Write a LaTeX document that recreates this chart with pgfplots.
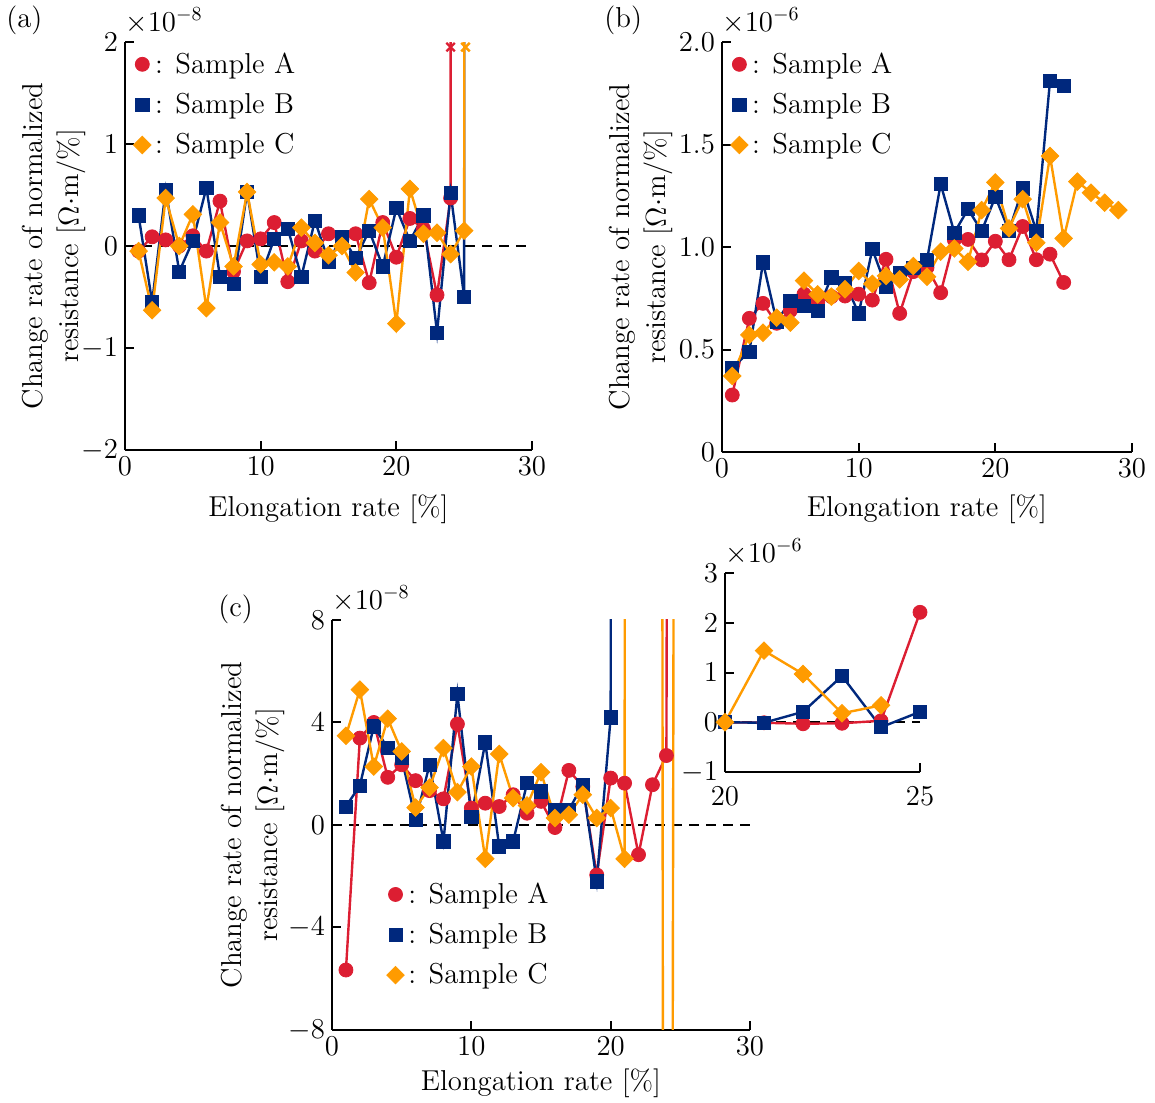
\documentclass[border=0pt]{standalone}
\usepackage{fontspec}
\usepackage{pgfplots}
\pgfplotsset{compat=1.18}
\definecolor{cred}{RGB}{220,30,50}
\definecolor{cblue}{RGB}{0,40,125}
\definecolor{corange}{RGB}{255,155,0}
\pgfplotsset{
  panel/.style={
    scale only axis, axis lines*=left, enlargelimits=false,
    axis line style={line width=1pt, black},
    tick style={line width=1pt, black},
    tick align=inside, major tick length=4.5pt,
    font=\Large,
    ylabel style={align=center},
    legend cell align=left,
    legend style={draw=none, fill=none, font=\Large, row sep=4.5pt, inner sep=0pt,
      nodes={inner sep=2pt}},
    legend image code/.code={\draw[##1, only marks] plot coordinates {(0.12cm,0cm)};},
  },
  serA/.style={color=cred, line width=1.2pt, mark=*, mark size=3.5pt,
    mark options={solid, fill=cred, draw=cred, line width=0.4pt}},
  serB/.style={color=cblue, line width=1.2pt, mark=square*, mark size=3.3pt,
    mark options={solid, fill=cblue, draw=cblue, line width=0.4pt}},
  serC/.style={color=corange, line width=1.2pt, mark=square*, mark size=3.1pt,
    mark options={solid, rotate=45, fill=corange, draw=corange, line width=0.4pt}},
  zeroline/.style={black, dash pattern=on 5pt off 3.5pt, line width=1pt, forget plot},
}
\begin{document}
\begin{tikzpicture}
\path[use as bounding box] (0pt,0pt) rectangle (577.5pt,-551pt);
\node[anchor=north west, inner sep=0pt, font=\Large] at (3pt,-3pt) {(a)};
\node[anchor=north west, inner sep=0pt, font=\Large] at (302pt,-3pt) {(b)};
\node[anchor=north west, inner sep=0pt, font=\Large] at (109pt,-297pt) {(c)};
% ---------------- (a)
\begin{axis}[panel, name=pa, at={(62.5pt,-225pt)}, anchor=south west,
  width=203.5pt, height=204pt, xmin=0, xmax=30, ymin=-2, ymax=2,
  xtick={0,10,20,30}, ytick={-2,-1,0,1,2},
  xlabel={Elongation rate [\%]}, xlabel shift=3pt, ylabel shift=-9pt,
  ylabel={Change rate of normalized\\resistance [$\Omega\cdot$m/\%]},
  legend style={at={(rel axis cs:0.02,0.985)}, anchor=north west}]
\addplot[zeroline] coordinates {(0,0) (30,0)};
\addplot[serA] coordinates {(1,-0.05) (2,0.09) (3,0.06) (4,0.0) (5,0.1) (6,-0.05) (7,0.44) (8,-0.25) (9,0.05) (10,0.07) (11,0.23) (12,-0.35) (13,0.05) (14,-0.05) (15,0.12) (16,0.07) (17,0.12) (18,-0.36) (19,0.23) (20,-0.11) (21,0.27) (22,0.17) (23,-0.48) (24,0.47) (25,220)};
\addlegendentry{: Sample A}
\addplot[serB] coordinates {(1,0.30) (2,-0.55) (3,0.55) (4,-0.25) (5,0.05) (6,0.57) (7,-0.30) (8,-0.37) (9,0.53) (10,-0.30) (11,0.07) (12,0.17) (13,-0.30) (14,0.25) (15,-0.15) (16,0.09) (17,-0.12) (18,0.15) (19,-0.20) (20,0.37) (21,0.05) (22,0.30) (23,-0.85) (24,0.52) (25,-0.50) (26,300)};
\addlegendentry{: Sample B}
\addplot[serC] coordinates {(1,-0.05) (2,-0.63) (3,0.47) (4,0.0) (5,0.31) (6,-0.61) (7,0.23) (8,-0.2) (9,0.53) (10,-0.18) (11,-0.16) (12,-0.2) (13,0.18) (14,0.03) (15,-0.09) (16,0.0) (17,-0.26) (18,0.46) (19,0.18) (20,-0.76) (21,0.56) (22,0.12) (23,0.13) (24,-0.08) (25,0.15) (26,300)};
\addlegendentry{: Sample C}
\addplot[cred, only marks, mark=x, mark size=3pt, mark options={line width=1.2pt}, forget plot] coordinates {(24,1.95)};
\addplot[corange, only marks, mark=x, mark size=3pt, mark options={line width=1.2pt}, forget plot] coordinates {(25.1,1.95)};
\end{axis}
\node[anchor=south west, inner sep=0pt, font=\Large] at ([yshift=4pt]pa.north west) {$\times10^{-8}$};
% ---------------- (b)
\begin{axis}[panel, name=pb, at={(361pt,-226pt)}, anchor=south west, clip=false,
  width=205pt, height=205pt, xmin=0, xmax=30, ymin=0, ymax=2,
  xtick={0,10,20,30}, ytick={0,0.5,1,1.5,2}, yticklabels={0,0.5,1.0,1.5,2.0},
  xlabel={Elongation rate [\%]}, xlabel shift=2pt, ylabel shift=-4pt,
  ylabel={Change rate of normalized\\resistance [$\Omega\cdot$m/\%]},
  legend style={at={(rel axis cs:0.02,0.985)}, anchor=north west}]
\addplot[serA] coordinates {(0.75,0.278) (2,0.652) (3,0.725) (4,0.628) (5,0.69) (6,0.77) (7,0.73) (8,0.758) (9,0.761) (10,0.77) (11,0.741) (12,0.94) (13,0.676) (14,0.88) (15,0.90) (16,0.777) (17,1.035) (18,1.037) (19,0.937) (20,1.028) (21,0.938) (22,1.10) (23,0.938) (24,0.965) (25,0.827)};
\addlegendentry{: Sample A}
\addplot[serB] coordinates {(0.75,0.411) (2,0.489) (3,0.925) (4,0.636) (5,0.737) (6,0.714) (7,0.69) (8,0.852) (9,0.826) (10,0.676) (11,0.989) (12,0.807) (13,0.875) (14,0.899) (15,0.937) (16,1.307) (17,1.07) (18,1.184) (19,1.078) (20,1.245) (21,1.078) (22,1.286) (23,1.078) (24,1.811) (25,1.787)};
\addlegendentry{: Sample B}
\addplot[serC] coordinates {(0.75,0.371) (2,0.571) (3,0.582) (4,0.655) (5,0.631) (6,0.836) (7,0.769) (8,0.758) (9,0.794) (10,0.883) (11,0.82) (12,0.859) (13,0.842) (14,0.907) (15,0.855) (16,0.977) (17,0.993) (18,0.928) (19,1.18) (20,1.315) (21,1.091) (22,1.233) (23,1.021) (24,1.444) (25,1.042) (26,1.319) (27,1.265) (28,1.216) (29,1.18)};
\addlegendentry{: Sample C}
\end{axis}
\node[anchor=south west, inner sep=0pt, font=\Large] at ([yshift=4pt]pb.north west) {$\times10^{-6}$};
% ---------------- (c)
\begin{axis}[panel, name=pc, at={(166pt,-515pt)}, anchor=south west,
  width=209pt, height=205pt, xmin=0, xmax=30, ymin=-8, ymax=8,
  xtick={0,10,20,30}, ytick={-8,-4,0,4,8},
  xlabel={Elongation rate [\%]}, ylabel shift=-5pt,
  ylabel={Change rate of normalized\\resistance [$\Omega\cdot$m/\%]},
  legend style={at={(rel axis cs:0.13,0.37)}, anchor=north west}]
\addplot[zeroline] coordinates {(0,0) (30,0)};
\addplot[serA] coordinates {(1,-5.66) (2,3.39) (3,4.0) (4,1.86) (5,2.35) (6,1.73) (7,1.34) (8,1.02) (9,3.94) (10,0.66) (11,0.85) (12,0.72) (13,1.18) (14,0.46) (15,0.92) (16,-0.1) (17,2.13) (18,1.5) (19,-1.95) (20,1.83) (21,1.63) (22,-1.16) (23,1.57) (24,2.71) (25,220)};
\addlegendentry{: Sample A}
\addplot[serB] coordinates {(1,0.72) (2,1.54) (3,3.85) (4,3.0) (5,2.61) (6,0.2) (7,2.35) (8,-0.64) (9,5.11) (10,0.33) (11,3.22) (12,-0.84) (13,-0.64) (14,1.63) (15,1.31) (16,0.59) (17,0.59) (18,1.57) (19,-2.2) (20,4.2) (21,500)};
\addlegendentry{: Sample B}
\addplot[serC] coordinates {(1,3.48) (2,5.28) (3,2.28) (4,4.15) (5,2.87) (6,0.68) (7,1.46) (8,3.0) (9,1.28) (10,2.28) (11,-1.32) (12,2.77) (13,1.05) (14,0.76) (15,2.06) (16,0.27) (17,0.4) (18,1.18) (19,0.27) (20,0.66) (21,-1.32) (22,900) (24,-140) (25,150)};
\addlegendentry{: Sample C}
\end{axis}
\node[anchor=south west, inner sep=0pt, font=\Large] at ([yshift=4pt]pc.north west) {$\times10^{-8}$};
% ---------------- inset
\begin{axis}[panel, name=pi, at={(362.5pt,-386pt)}, anchor=south west, clip=false,
  width=97.5pt, height=99.5pt, xmin=20, xmax=25, ymin=-1, ymax=3,
  xtick={20,25}, ytick={-1,0,1,2,3}, xticklabel style={yshift=-4pt}]
\addplot[zeroline] coordinates {(20,0) (25,0)};
\addplot[serA] coordinates {(20,0) (21,-0.01) (22,-0.03) (23,-0.02) (24,0.03) (25,2.21)};
\addplot[serB] coordinates {(20,0) (21,-0.01) (22,0.21) (23,0.93) (24,-0.1) (25,0.21)};
\addplot[serC] coordinates {(20,0) (21,1.44) (22,0.97) (23,0.18) (24,0.34)};
\end{axis}
\node[anchor=south west, inner sep=0pt, font=\Large] at ([yshift=4pt]pi.north west) {$\times10^{-6}$};
\end{tikzpicture}
\end{document}
